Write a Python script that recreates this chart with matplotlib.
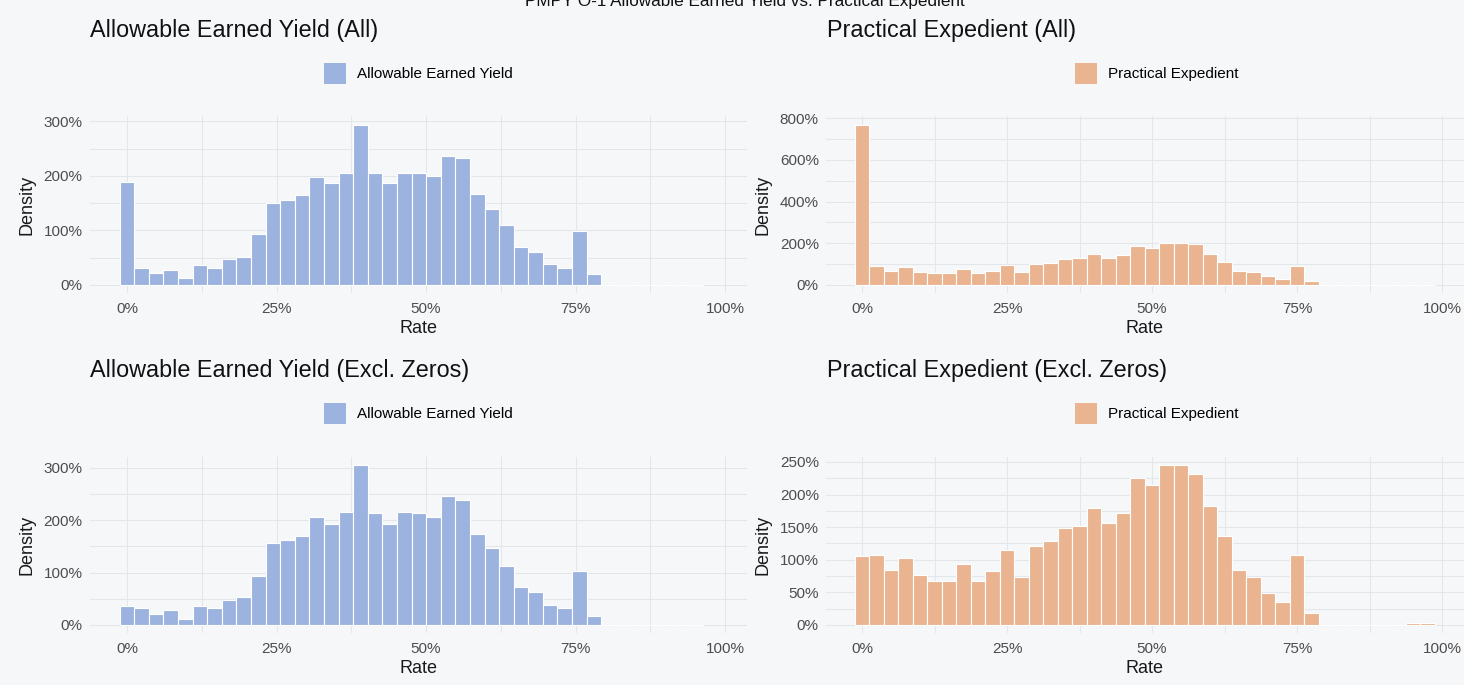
import matplotlib.pyplot as plt
import numpy as np
from matplotlib.ticker import MultipleLocator, PercentFormatter, FuncFormatter
from matplotlib.patches import Patch

plt.rcParams['font.family'] = ['Liberation Sans', 'DejaVu Sans']

# histogram densities (in %) read per bin, bins start at 0% rate
aey_binwidth = 0.0244
aey_all = [188, 32, 22, 28, 12, 37, 32, 47, 51, 93, 150, 156, 165, 198, 186, 206,
           294, 205, 186, 206, 205, 199, 236, 232, 167, 140, 109, 70, 61, 38, 32, 98,
           20, 0, 0, 0, 0, 0, 0, 0.5]
aey_nozero = [37, 33, 20, 28, 11, 37, 33, 48, 53, 94, 156, 163, 170, 206, 192, 216,
              306, 213, 192, 216, 213, 206, 246, 239, 174, 146, 113, 72, 63, 39, 33, 103,
              18, 0, 0, 0, 0, 0, 0, 0.5]

pe_binwidth = 0.025
pe_all = [770, 90, 69, 85, 62, 58, 58, 78, 58, 69, 94, 62, 101, 107, 123, 128,
          150, 128, 146, 187, 176, 203, 203, 195, 150, 112, 69, 62, 42, 30, 90, 19,
          0, 0, 0, 0, 0, 0, 0.6, 0.6]
pe_nozero = [105, 108, 84, 102, 77, 67, 68, 93, 68, 82, 115, 74, 121, 129, 148, 151,
             180, 156, 171, 225, 215, 246, 246, 232, 183, 136, 84, 74, 49, 35, 107, 19,
             0, 0, 0, 0, 0, 0, 2.5, 2.5]

suptitle = "PMPY O-1 Allowable Earned Yield vs. Practical Expedient"
titles = ["Allowable Earned Yield (All)", "Practical Expedient (All)",
          "Allowable Earned Yield (Excl. Zeros)", "Practical Expedient (Excl. Zeros)"]
series_names = ["Allowable Earned Yield", "Practical Expedient"]

bg = '#f5f7f9'
grid_c = '#e4e7ea'
blue = '#9cb2df'
orange = '#e9b48f'
W, H = 1464, 685

fig = plt.figure(figsize=(W / 100, H / 100), dpi=100, facecolor=bg)

# panel geometry in pixels: left, right, top, bottom
panels = [
    (89.6, 747.5, 116.5, 293, aey_all, aey_binwidth, blue, 0, 100, 50),
    (825.8, 1463.8, 116.5, 293, pe_all, pe_binwidth, orange, 1, 200, 100),
    (89.6, 747.5, 456.5, 633, aey_nozero, aey_binwidth, blue, 0, 100, 50),
    (825.8, 1463.8, 456.5, 633, pe_nozero, pe_binwidth, orange, 1, 50, 25),
]

for i, (l, r, t, b, vals, bw, col, s, major, minor) in enumerate(panels):
    ax = fig.add_axes([l / W, 1 - b / H, (r - l) / W, (b - t) / H])
    ax.set_facecolor(bg)
    vals = np.array(vals)
    centers = np.arange(len(vals)) * bw
    ax.bar(centers, vals, width=bw, color=col, edgecolor='white', linewidth=0.8, zorder=2)

    top = vals.max()
    ax.set_ylim(-0.05 * top, 1.05 * top)
    ax.set_xlim(-0.0625, 1.0375)

    ax.xaxis.set_major_locator(MultipleLocator(0.25))
    ax.xaxis.set_minor_locator(MultipleLocator(0.125))
    ax.xaxis.set_major_formatter(PercentFormatter(1, decimals=0))
    ax.yaxis.set_major_locator(MultipleLocator(major))
    ax.yaxis.set_minor_locator(MultipleLocator(minor))
    ax.yaxis.set_major_formatter(FuncFormatter(lambda v, p: f"{v:.0f}%"))

    ax.grid(which='both', color=grid_c, linewidth=0.8, zorder=0)
    ax.set_axisbelow(True)
    for sp in ax.spines.values():
        sp.set_visible(False)
    ax.tick_params(which='both', length=0, labelsize=11, labelcolor='#4d4d4d')
    ax.tick_params(axis='x', pad=6.5)
    ax.tick_params(axis='y', pad=5)

    ax.set_xlabel("Rate", fontsize=13, color='#1a1a1a')
    ax.set_ylabel("Density", fontsize=13, color='#1a1a1a')
    ax.xaxis.set_label_coords(0.5, -0.155)
    ax.yaxis.set_label_coords(-54 / (r - l), 0.5)

    # panel title and legend
    fig.text(l / W if s == 0 else 827 / W, 1 - (t - 86) / H, titles[i],
             fontsize=16.8, va='center', ha='left', color='#111111')
    cx = 418 / W if s == 0 else 1157 / W
    fig.legend(handles=[Patch(facecolor=col, edgecolor='none')], labels=[series_names[s]],
               loc='center', bbox_to_anchor=(cx, 1 - (t - 43) / H),
               bbox_transform=fig.transFigure, frameon=False, fontsize=11,
               handlelength=1.45, handleheight=1.75, handletextpad=0.7)

fig.text(745 / W, 1 - 6 / H, suptitle, fontsize=12.3, ha='center', va='baseline', color='#111111')

fig.savefig('out.png', dpi=100, facecolor=bg)
